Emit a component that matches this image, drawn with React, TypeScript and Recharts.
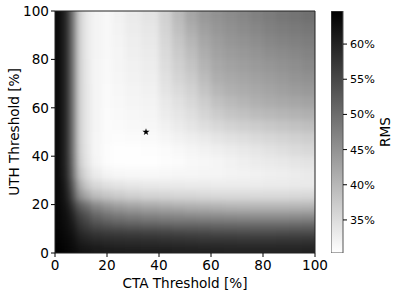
import React from 'react';
import { ScatterChart, Scatter, BarChart, Bar, XAxis, YAxis, ReferenceArea, Symbols } from 'recharts';

// bin edges of the threshold grid [%]
const X_EDGES = [0, 1.5, 3, 4.5, 6, 7.5, 9, 11, 14, 18, 22, 27, 33, 40, 45, 50, 55, 60, 65, 70, 75, 80, 85, 90, 95, 100];
const Y_EDGES = [0, 2, 4, 6, 8, 10, 13, 16, 19, 22, 26, 30, 35, 40, 45, 50, 55, 60, 65, 70, 75, 80, 85, 90, 95, 100];

// RMS [%] per cell, rows from UTH 0 (bottom) up to UTH 100, columns CTA 0 -> 100
const RMS = [
  [64.6, 64.4, 64.1, 63.8, 63.4, 63.0, 62.4, 62.0, 61.6, 61.3, 61.1, 61.0, 60.9, 60.8, 60.7, 60.6, 60.5, 60.4, 60.3, 60.2, 60.2, 60.2, 60.2, 60.3, 60.3],
  [64.5, 64.2, 63.9, 63.5, 63.0, 62.4, 61.5, 61.0, 60.5, 60.1, 59.9, 59.7, 59.6, 59.5, 59.3, 59.2, 59.1, 59.0, 59.0, 58.9, 58.9, 58.9, 59.0, 59.1, 59.2],
  [64.4, 64.0, 63.7, 63.3, 62.7, 61.9, 60.7, 60.0, 59.3, 58.9, 58.6, 58.5, 58.3, 58.1, 57.9, 57.8, 57.6, 57.5, 57.5, 57.4, 57.4, 57.4, 57.5, 57.6, 57.7],
  [64.3, 63.9, 63.5, 63.0, 62.3, 61.3, 59.8, 59.0, 58.2, 57.7, 57.4, 57.2, 57.0, 56.7, 56.5, 56.3, 56.2, 56.0, 55.9, 55.8, 55.8, 55.8, 55.9, 56.0, 56.1],
  [64.2, 63.8, 63.3, 62.7, 61.8, 60.6, 59.0, 58.0, 56.9, 56.3, 56.0, 55.8, 55.5, 55.2, 54.8, 54.6, 54.4, 54.1, 54.0, 53.9, 53.8, 53.8, 53.9, 54.0, 54.1],
  [64.1, 63.6, 63.0, 62.3, 61.0, 59.5, 57.6, 56.2, 54.5, 53.5, 52.8, 52.3, 51.9, 51.6, 51.4, 51.3, 51.2, 51.1, 51.0, 50.9, 50.9, 50.9, 51.0, 51.1, 51.2],
  [64.0, 63.4, 62.8, 61.8, 60.0, 58.0, 56.0, 54.2, 51.8, 50.3, 49.3, 48.6, 48.0, 47.6, 47.3, 47.1, 46.9, 46.7, 46.6, 46.5, 46.4, 46.4, 46.4, 46.5, 46.6],
  [63.9, 63.2, 62.5, 61.0, 58.5, 55.8, 53.5, 51.5, 48.5, 46.8, 45.6, 44.8, 44.0, 43.6, 43.2, 42.9, 42.7, 42.4, 42.2, 42.1, 42.0, 42.0, 42.0, 42.1, 42.2],
  [63.8, 63.0, 62.0, 60.0, 56.5, 53.0, 50.5, 48.0, 45.0, 43.2, 42.0, 41.2, 40.6, 40.2, 39.8, 39.6, 39.4, 39.2, 39.0, 38.9, 38.8, 38.8, 38.8, 38.9, 39.0],
  [63.7, 62.8, 61.5, 58.5, 53.5, 48.5, 44.5, 41.5, 39.0, 37.8, 37.0, 36.4, 36.0, 35.8, 35.6, 35.5, 35.3, 35.2, 35.2, 35.1, 35.1, 35.2, 35.2, 35.3, 35.4],
  [63.6, 62.5, 61.0, 57.0, 51.5, 46.0, 41.0, 37.5, 35.5, 34.5, 34.0, 33.6, 33.3, 33.1, 33.1, 33.0, 33.0, 32.9, 32.9, 32.9, 32.9, 33.0, 33.0, 33.1, 33.2],
  [63.5, 62.2, 60.3, 55.8, 49.0, 43.0, 38.0, 35.0, 32.8, 31.8, 31.4, 31.3, 31.3, 31.4, 31.5, 31.5, 31.6, 31.7, 31.9, 32.0, 32.2, 32.4, 32.6, 32.9, 33.1],
  [63.5, 62.0, 60.0, 55.2, 48.3, 42.0, 36.5, 33.8, 31.6, 30.7, 30.4, 30.4, 30.5, 30.7, 30.9, 31.2, 31.4, 31.7, 32.1, 32.4, 32.8, 33.1, 33.4, 33.8, 34.1],
  [63.5, 62.0, 60.0, 55.0, 48.0, 41.6, 36.1, 33.5, 31.5, 30.7, 30.5, 30.5, 30.6, 30.9, 31.2, 31.6, 32.0, 32.4, 32.8, 33.3, 33.7, 34.2, 34.6, 35.1, 35.6],
  [63.5, 62.0, 60.0, 55.0, 48.0, 41.5, 36.0, 33.4, 31.5, 30.8, 30.7, 30.8, 31.0, 31.5, 32.0, 32.6, 33.2, 33.8, 34.3, 34.8, 35.3, 35.7, 36.1, 36.5, 36.9],
  [63.5, 62.0, 60.0, 55.0, 48.0, 41.5, 36.0, 33.4, 31.6, 30.9, 31.0, 31.2, 31.4, 32.2, 33.0, 33.8, 34.7, 35.6, 36.3, 36.8, 37.2, 37.7, 38.1, 38.5, 38.9],
  [63.5, 62.0, 60.0, 55.0, 48.0, 41.5, 36.0, 33.4, 31.6, 30.9, 31.1, 31.4, 31.7, 32.8, 33.7, 34.6, 35.9, 37.2, 38.1, 38.7, 39.3, 39.8, 40.2, 40.6, 41.0],
  [63.5, 62.0, 60.0, 55.0, 48.0, 41.5, 36.0, 33.4, 31.7, 31.0, 31.3, 31.6, 31.9, 33.3, 34.4, 35.5, 37.1, 38.6, 39.6, 40.3, 40.9, 41.5, 41.9, 42.3, 42.7],
  [63.5, 62.0, 60.0, 55.0, 48.0, 41.5, 36.0, 33.4, 31.7, 31.0, 31.4, 31.8, 32.2, 33.9, 35.2, 36.4, 38.3, 40.0, 40.9, 41.5, 42.1, 42.6, 43.1, 43.6, 44.0],
  [63.5, 62.0, 60.0, 55.0, 48.0, 41.5, 36.0, 33.3, 31.7, 31.1, 31.5, 32.0, 32.4, 34.4, 35.9, 37.3, 39.4, 41.2, 41.9, 42.5, 43.0, 43.5, 44.1, 44.7, 45.2],
  [63.5, 62.0, 60.0, 55.0, 48.0, 41.5, 36.0, 33.3, 31.7, 31.1, 31.6, 32.2, 32.7, 34.9, 36.6, 38.2, 40.4, 42.0, 42.8, 43.4, 43.9, 44.4, 45.0, 45.6, 46.2],
  [63.5, 62.0, 60.0, 55.0, 48.0, 41.5, 36.0, 33.2, 31.8, 31.2, 31.7, 32.4, 33.0, 35.3, 37.3, 39.2, 41.4, 42.8, 43.6, 44.2, 44.8, 45.5, 46.0, 46.5, 47.0],
  [63.5, 62.0, 60.0, 55.0, 48.0, 41.5, 36.0, 33.2, 31.8, 31.2, 31.8, 32.6, 33.3, 35.7, 38.0, 40.2, 42.2, 43.5, 44.4, 45.0, 45.7, 46.5, 47.0, 47.4, 47.8],
  [63.5, 62.0, 60.0, 55.0, 48.0, 41.5, 36.0, 33.2, 31.8, 31.3, 31.9, 32.8, 33.6, 36.1, 38.8, 41.2, 43.1, 44.3, 45.1, 45.8, 46.5, 47.3, 47.8, 48.2, 48.7],
  [63.5, 62.0, 60.0, 55.0, 48.0, 41.5, 36.0, 33.2, 31.8, 31.3, 32.0, 33.0, 34.0, 36.5, 39.5, 42.3, 44.0, 45.0, 45.8, 46.5, 47.3, 48.0, 48.6, 49.1, 49.6],
];

const AXIS_TICKS = [0, 20, 40, 60, 80, 100];
const CBAR_TICKS = [35, 40, 45, 50, 55, 60];
const RMS_MIN = 30.3;
const RMS_MAX = 64.7;
const CBAR = [{ name: 'RMS', range: [RMS_MIN, RMS_MAX] }];

// best threshold pair
const BEST = [{ cta: 35, uth: 50 }];

const FONT = '"DejaVu Sans", sans-serif';
const FS = 13.6;

// gray_r colormap
const gray = (v: number) => {
  const t = Math.min(1, Math.max(0, (v - RMS_MIN) / (RMS_MAX - RMS_MIN)));
  const g = Math.round(255 * (1 - t));
  return `rgb(${g},${g},${g})`;
};

const cells = RMS.flatMap((row, j) =>
  row.map((v, i) => ({ x1: X_EDGES[i], x2: X_EDGES[i + 1], y1: Y_EDGES[j], y2: Y_EDGES[j + 1], v }))
);

const StarShape = (props: any) => (
  <Symbols cx={props.cx} cy={props.cy} type="star" size={16} fill="#000" />
);

// smooth the cell grid like an interpolated image
const css = `g:has(> g.heat-cell){filter:url(#smooth);}`;

export default function App() {
  return (
    <div style={{ position: 'absolute', left: 0, top: 0, width: 398, height: 296, background: '#fff', fontFamily: FONT }}>
      <style>{css}</style>
      <svg width={0} height={0} style={{ position: 'absolute' }}>
        <defs>
          <filter id="smooth" x="0" y="0" width="1" height="1" filterUnits="objectBoundingBox" colorInterpolationFilters="sRGB">
            <feGaussianBlur stdDeviation="2.5 3" />
            <feComponentTransfer>
              <feFuncA type="linear" slope="0" intercept="1" />
            </feComponentTransfer>
          </filter>
          <linearGradient id="cbar" x1="0" y1="1" x2="0" y2="0">
            <stop offset="0" stopColor="#fff" />
            <stop offset="1" stopColor="#000" />
          </linearGradient>
        </defs>
      </svg>
      <div style={{ position: 'absolute', left: 0, top: 0 }}>
        <ScatterChart width={330} height={296} margin={{ top: 11, right: 15, bottom: 0, left: 10 }}>
          <XAxis
            type="number"
            dataKey="cta"
            domain={[0, 100]}
            ticks={AXIS_TICKS}
            height={43}
            axisLine={false}
            tickSize={4}
            tickMargin={3}
            tick={{ fill: '#000', fontSize: FS }}
            tickLine={{ stroke: '#000' }}
            label={{ value: 'CTA Threshold [%]', position: 'insideBottom', offset: 8, fill: '#000', fontSize: FS }}
          />
          <YAxis
            type="number"
            dataKey="uth"
            domain={[0, 100]}
            ticks={AXIS_TICKS}
            width={45}
            axisLine={false}
            tickSize={4}
            tickMargin={2}
            tick={{ fill: '#000', fontSize: FS }}
            tickLine={{ stroke: '#000' }}
            label={{ value: 'UTH Threshold [%]', angle: -90, position: 'insideLeft', offset: 4, fill: '#000', fontSize: FS, style: { textAnchor: 'middle' } }}
          />
          {cells.map((c, k) => (
            <ReferenceArea
              key={k}
              className="heat-cell"
              zIndex={-5}
              x1={c.x1}
              x2={c.x2}
              y1={c.y1}
              y2={c.y2}
              fill={gray(c.v)}
              fillOpacity={1}
              stroke="none"
              shapeRendering="crispEdges"
            />
          ))}
          <ReferenceArea x1={0} x2={100} y1={0} y2={100} zIndex={150} fill="none" fillOpacity={0} stroke="#222" strokeWidth={1} />
          <Scatter data={BEST} shape={StarShape} isAnimationActive={false} />
        </ScatterChart>
      </div>
      <div style={{ position: 'absolute', left: 331, top: 0 }}>
        <BarChart width={67} height={296} data={CBAR} margin={{ top: 11, right: 0, bottom: 43, left: 0 }} barCategoryGap={0}>
          <XAxis dataKey="name" hide />
          <YAxis
            type="number"
            orientation="right"
            domain={[RMS_MIN, RMS_MAX]}
            allowDataOverflow
            ticks={CBAR_TICKS}
            width={55}
            axisLine={false}
            tickSize={4}
            tickMargin={3}
            tick={{ fill: '#000', fontSize: 11.2 }}
            tickLine={{ stroke: '#000' }}
            tickFormatter={(v: number) => `${v}%`}
            label={{ value: 'RMS', angle: -90, position: 'insideRight', offset: 13, fill: '#000', fontSize: FS, style: { textAnchor: 'middle' } }}
          />
          <Bar dataKey="range" fill="url(#cbar)" stroke="#555" strokeWidth={1} isAnimationActive={false} />
        </BarChart>
      </div>
    </div>
  );
}
